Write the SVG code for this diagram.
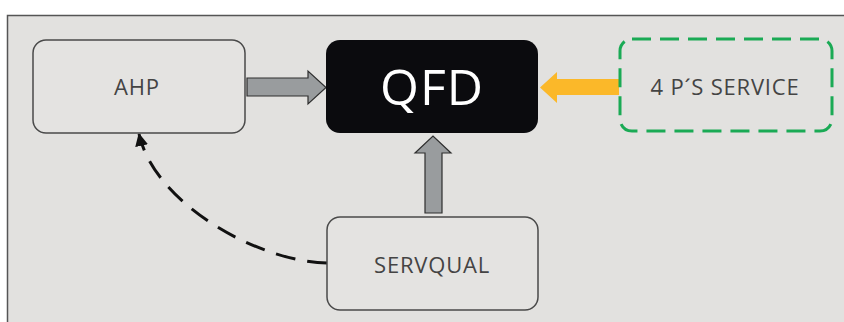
<svg xmlns="http://www.w3.org/2000/svg" width="844" height="322" viewBox="0 0 844 322">
<defs>
<style>
.box{fill:#e4e3e1;stroke:#4a4a4a;stroke-width:1.5}
.lbl{font-family:"Open Sans","Liberation Sans",sans-serif;font-size:22px;fill:#444;text-anchor:middle;letter-spacing:0.8px}
.gray{fill:#999c9e;stroke:#2e2e2e;stroke-width:1.2}
</style>
<marker id="ah" viewBox="0 0 12 12" refX="11" refY="6" markerWidth="13" markerHeight="13" markerUnits="userSpaceOnUse" orient="auto">
<path d="M0,0 L12,6 L0,12 z" fill="#111"/>
</marker>
</defs>
<rect x="0" y="0" width="844" height="322" fill="#fff"/>
<rect x="7.5" y="15.5" width="840" height="310" fill="#e2e1df" stroke="#555" stroke-width="1.5"/>
<g id="connectors">
<path class="gray" d="M247,78 H308 V71 L326,87.5 L308,104 V96 H247 z"/>
<path fill="#fbb829" d="M619,79 H557 V72 L540,87.5 L557,103 V95 H619 z"/>
<path class="gray" d="M425,213 V153 H415 L433,136 L451,153 H442 V213 z"/>
<path d="M327,263 C 260,262 155,205 139,134" fill="none" stroke="#111" stroke-width="3" stroke-dasharray="20 12" marker-end="url(#ah)"/>
</g>
<g id="ahp">
<rect class="box" x="33" y="40" width="212" height="93" rx="13"/>
<text class="lbl" x="137" y="95">AHP</text>
</g>
<g id="qfd">
<rect x="326" y="40" width="212" height="93" rx="14" fill="#0b0b0e"/>
<text x="432" y="105" font-family="'Open Sans','Liberation Sans',sans-serif" font-size="50" letter-spacing="1" fill="#fff" text-anchor="middle">QFD</text>
</g>
<g id="ps">
<rect x="620" y="39" width="212" height="92" rx="12" fill="none" stroke="#1aaa55" stroke-width="3" stroke-dasharray="19 9"/>
<text class="lbl" x="725" y="95">4 P´S SERVICE</text>
</g>
<g id="servqual">
<rect class="box" x="327" y="217" width="211" height="93" rx="13"/>
<text class="lbl" x="432" y="273">SERVQUAL</text>
</g>
</svg>
